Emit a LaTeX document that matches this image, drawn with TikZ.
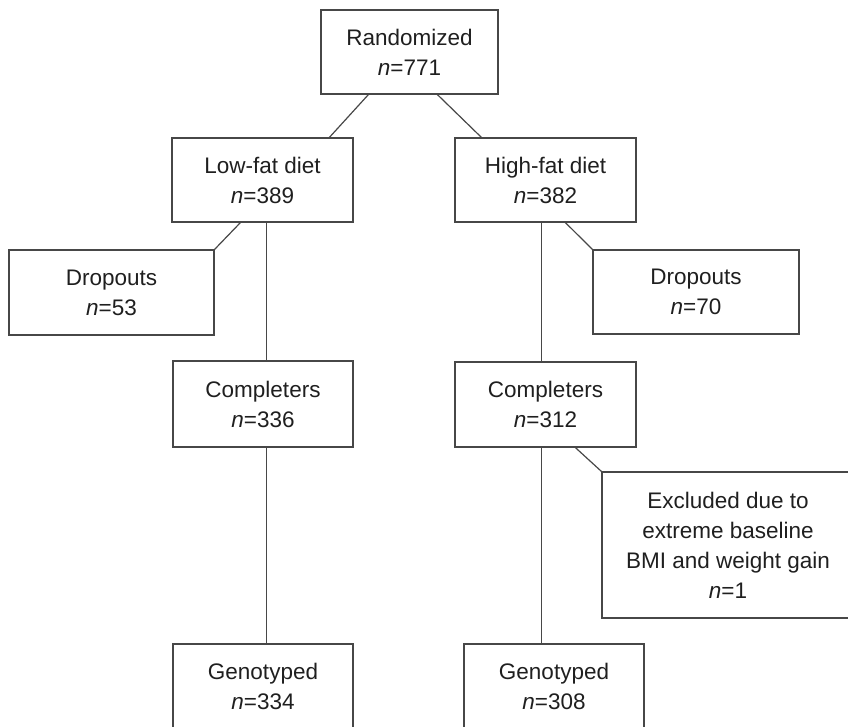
\documentclass[tikz,border=0pt]{standalone}
\usepackage{fontspec}
\setmainfont{Liberation Sans}
\usetikzlibrary{calc}
\begin{document}
\begin{tikzpicture}[x=1pt,y=-1pt,
  box/.style={draw=black!72, line width=1.2pt, inner sep=0pt, align=center,
    text=black!88, font=\fontsize{22.5}{30}\selectfont},
  link/.style={draw=black!72, line width=1.2pt}]
\useasboundingbox (0,0) rectangle (848,727);
\node[box, minimum width=177pt, minimum height=84pt] (rand) at (409.5,52) {Randomized\\\textit{n}=771};
\node[box, minimum width=181pt, minimum height=84pt] (low) at (262.5,180) {Low-fat diet\\\textit{n}=389};
\node[box, minimum width=181pt, minimum height=84pt] (high) at (545.5,180) {High-fat diet\\\textit{n}=382};
\node[box, minimum width=205pt, minimum height=85pt] (dropL) at (111.5,292.5) {Dropouts\\\textit{n}=53};
\node[box, minimum width=206pt, minimum height=84pt] (dropR) at (696,292) {Dropouts\\\textit{n}=70};
\node[box, minimum width=180pt, minimum height=86pt] (compL) at (263,404) {Completers\\\textit{n}=336};
\node[box, minimum width=181pt, minimum height=85pt] (compR) at (545.5,404.5) {Completers\\\textit{n}=312};
\node[box, minimum width=252pt, minimum height=146pt] (excl) at (728,545) {Excluded due to\\extreme baseline\\BMI and weight gain\\\textit{n}=1};
\node[box, minimum width=180pt, minimum height=85pt] (genL) at (263,686.5) {Genotyped\\\textit{n}=334};
\node[box, minimum width=180pt, minimum height=85pt] (genR) at (554,686.5) {Genotyped\\\textit{n}=308};
\draw[link] ($(rand.south west)+(48,0)$) -- ($(low.north west)+(158,0)$);
\draw[link] ($(rand.south west)+(117,0)$) -- ($(high.north west)+(27,0)$);
\draw[link] ($(low.south west)+(69,0)$) -- (dropL.north east);
\draw[link] ($(low.south west)+(95,0)$) -- ($(compL.north west)+(94,0)$);
\draw[link] ($(compL.south west)+(94,0)$) -- ($(genL.north west)+(94,0)$);
\draw[link] ($(high.south west)+(111,0)$) -- (dropR.north west);
\draw[link] ($(high.south west)+(87,0)$) -- ($(compR.north west)+(87,0)$);
\draw[link] ($(compR.south west)+(121,0)$) -- (excl.north west);
\draw[link] ($(compR.south west)+(87,0)$) -- ($(genR.north west)+(78,0)$);
\end{tikzpicture}
\end{document}
